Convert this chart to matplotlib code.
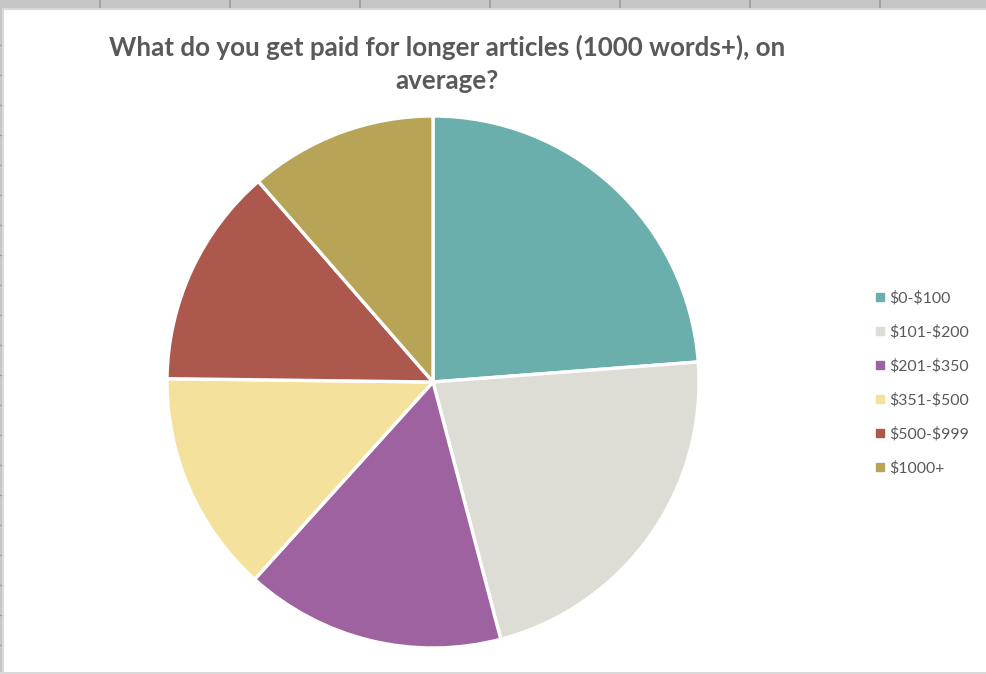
import matplotlib
matplotlib.use('Agg')
import matplotlib.pyplot as plt
from matplotlib.lines import Line2D
from matplotlib.patches import Rectangle

plt.rcParams['text.parse_math'] = False

# 데이터 (그림에서 읽은 비율, %)
categories = ['$0-$100', '$101-$200', '$201-$350', '$351-$500', '$500-$999', '$1000+']
shares = [23.8, 22.1, 15.8, 13.5, 13.4, 11.4]
colors = ['#6AAFAC', '#DDDDD5', '#9E62A0', '#F4E29C', '#AD584D', '#B8A456']

title = 'What do you get paid for longer articles (1000 words+), on\naverage?'
text_color = '#595959'

W, H = 986, 674
fig = plt.figure(figsize=(W / 100, H / 100), dpi=100)
fig.patch.set_facecolor('white')

# 스프레드시트 배경 흔적 (위/왼쪽 띠)
fig.patches.append(Rectangle((0, 1 - 8 / H), 1, 8 / H, transform=fig.transFigure,
                             facecolor='#C6C6C6', edgecolor='none', zorder=0))
fig.patches.append(Rectangle((0, 0), 3 / W, 1, transform=fig.transFigure,
                             facecolor='#C6C6C6', edgecolor='none', zorder=0))
fig.patches.append(Rectangle((0, 0), 1, 2 / H, transform=fig.transFigure,
                             facecolor='#D9D9D9', edgecolor='none', zorder=0))
for x in range(100, W, 130):
    fig.add_artist(Line2D([x / W, x / W], [1 - 8 / H, 1], transform=fig.transFigure,
                          color='#9A9A9A', lw=1.2))
for y in range(45, H, 30):
    fig.add_artist(Line2D([0, 3 / W], [1 - y / H, 1 - y / H], transform=fig.transFigure,
                          color='#9A9A9A', lw=1.0))
# 차트 테두리
fig.add_artist(Line2D([3 / W, 3 / W, 1], [2 / H, 1 - 9 / H, 1 - 9 / H],
                      transform=fig.transFigure, color='#D9D9D9', lw=1.5))

# 파이 차트
cx, cy, r = 433, 382, 266
ax = fig.add_axes([(cx - r) / W, (H - cy - r) / H, 2 * r / W, 2 * r / H])
wedges, _ = ax.pie(shares, colors=colors, startangle=90, counterclock=False,
                   radius=1, wedgeprops=dict(edgecolor='white', linewidth=2.4))
ax.set_xlim(-1, 1)
ax.set_ylim(-1, 1)
ax.set_aspect('equal')
ax.axis('off')

# 제목
fig.text(447 / W, 1 - 35 / H, title, ha='center', va='top', fontsize=18.7,
         fontweight='bold', color=text_color, family='Lato', linespacing=1.45)

# 범례
handles = [Line2D([], [], marker='s', linestyle='none', markersize=5.5,
                  markerfacecolor=c, markeredgecolor=c) for c in colors]
leg = fig.legend(handles, categories, loc='upper left',
                 bbox_to_anchor=(875 / W, 1 - 291 / H), frameon=False,
                 prop=dict(family='Lato', size=11.4), labelcolor=text_color,
                 handlelength=0.6, handletextpad=0.3, labelspacing=1.23,
                 borderaxespad=0, borderpad=0)

plt.savefig('out.png', dpi=100)
